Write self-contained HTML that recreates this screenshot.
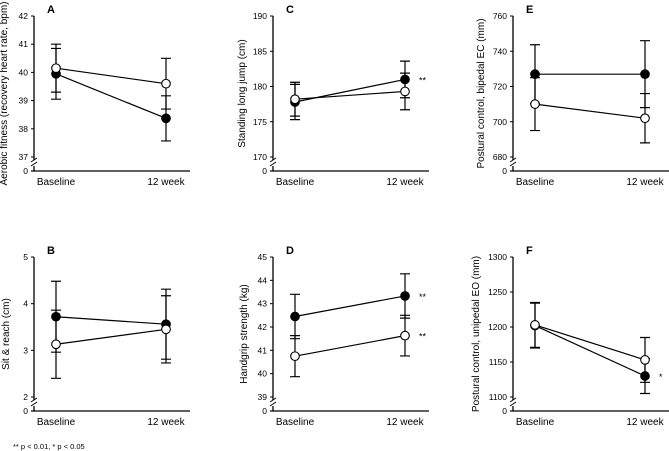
<!DOCTYPE html>
<html><head><meta charset="utf-8">
<style>
html,body{margin:0;padding:0;background:#fff;}
svg{display:block;font-family:"Liberation Sans",Arial,sans-serif;}
</style></head>
<body>
<svg id="fig" width="669" height="451" viewBox="0 0 669 451" xmlns="http://www.w3.org/2000/svg"></svg>
<script>
const timepoints = ["Baseline", "12 week"];
const panelLabels = ["A","B","C","D","E","F"];
const yTitles = ["Aerobic fitness (recovery heart rate, bpm)","Sit & reach (cm)","Standing long jump (cm)","Handgrip strength (kg)","Postural control, bipedal EC (mm)","Postural control, unipedal EO (mm)"];
const yMins = [37, 2, 170, 39, 680, 1100];
const yMaxs = [42, 5, 190, 45, 760, 1300];
const yTicksA = [37,38,39,40,41,42];
const yTicksB = [2,3,4,5];
const yTicksC = [170,175,180,185,190];
const yTicksD = [39,40,41,42,43,44,45];
const yTicksE = [680,700,720,740,760];
const yTicksF = [1100,1150,1200,1250,1300];
const filledMeans = [[39.95,38.37],[3.72,3.56],[177.8,181.0],[42.45,43.33],[727,727],[1202,1130]];
const filledErr = [[0.9,0.8],[0.76,0.75],[2.5,2.6],[0.95,0.95],[16.7,19],[32,25]];
const openMeans = [[40.15,39.6],[3.13,3.45],[178.2,179.3],[40.75,41.63],[710,702],[1203,1153]];
const openErr = [[0.85,0.9],[0.73,0.72],[2.4,2.6],[0.88,0.87],[15,14],[32,32]];
const sigFilled = ["","","**","**","","*"];
const sigOpen = ["","","","**","",""];

const NS="http://www.w3.org/2000/svg";
const svg=document.getElementById('fig');
function mk(tag,attrs,parent){const e=document.createElementNS(NS,tag);for(const k in attrs)e.setAttribute(k,attrs[k]);(parent||svg).appendChild(e);return e;}
const tickSets=[yTicksA,yTicksB,yTicksC,yTicksD,yTicksE,yTicksF];
const colAxisX=[34,273,513];
const rowTop=[16,257];
const rowBreak=[157,397];
const rowZero=[171,411];
const titleX=[7,9,245,247,484,479];
const xOff1=22, xOff2=132, axisLen=156;

for(let p=0;p<6;p++){
  const col=Math.floor(p/2), row=p%2;
  const ax=colAxisX[col], top=rowTop[row], brk=rowBreak[row], zero=rowZero[row];
  const g=mk('g',{});
  
  
  const y=v=>brk-(v-yMins[p])/(yMaxs[p]-yMins[p])*(brk-top);
  const x=i=>ax+(i===0?xOff1:xOff2);
  const pl=mk('text',{x:ax+13,y:top-3,'font-size':11,'font-weight':'bold'},g);pl.textContent=panelLabels[p];
  
  const ya=mk('path',{d:`M${ax},${top}V${brk+3}M${ax},${brk+9}V${zero}`,stroke:'#000','stroke-width':1.3,fill:'none'},g);
  
  mk('path',{d:`M${ax-3},${brk+5}L${ax+3},${brk+1}M${ax-3},${brk+9}L${ax+3},${brk+5}`,stroke:'#000','stroke-width':1},g);
  const xa=mk('line',{x1:ax-3,y1:zero,x2:ax+axisLen,y2:zero,stroke:'#000','stroke-width':1.3},g);
  
  const zt=mk('text',{x:ax-6,y:zero+3,'font-size':8.5,'text-anchor':'end'},g);zt.textContent='0';
  tickSets[p].forEach(t=>{
    mk('line',{x1:ax-3,y1:y(t),x2:ax,y2:y(t),stroke:'#000','stroke-width':1},g);
    const tl=mk('text',{x:ax-6,y:y(t)+3,'font-size':8.5,'text-anchor':'end'},g);tl.textContent=t;
    
  });
  timepoints.forEach((tp,i)=>{
    const xl=mk('text',{x:x(i),y:zero+14,'font-size':10,'text-anchor':'middle'},g);xl.textContent=tp;
    
  });
  const cy=(top+zero)/2;
  const yt=mk('text',{x:0,y:0,'font-size':10,'text-anchor':'middle',transform:`translate(${titleX[p]},${cy}) rotate(-90)`},g);yt.textContent=yTitles[p];
  
  const series=[[filledMeans[p],filledErr[p],'#000','filled'],[openMeans[p],openErr[p],'#fff','open']];
  series.forEach(([m,e])=>{
    m.forEach((v,i)=>{
      mk('path',{d:`M${x(i)},${y(v+e[i])}V${y(v-e[i])}M${x(i)-5},${y(v+e[i])}h10M${x(i)-5},${y(v-e[i])}h10`,stroke:'#000','stroke-width':1.2,fill:'none'},g);
    });
  });
  series.forEach(([m,e,fill,nm])=>{
    const ln=mk('line',{x1:x(0),y1:y(m[0]),x2:x(1),y2:y(m[1]),stroke:'#000','stroke-width':1.2},g);
    
  });
  series.forEach(([m,e,fill,nm])=>{
    m.forEach((v,i)=>{
      const c=mk('circle',{cx:x(i),cy:y(v),r:4.3,fill:fill,stroke:'#000','stroke-width':1.1},g);
      
    });
  });
  if(sigFilled[p]){const s=mk('text',{x:x(1)+14,y:y(filledMeans[p][1])+4,'font-size':9},g);s.textContent=sigFilled[p];
    }
  if(sigOpen[p]){const s=mk('text',{x:x(1)+14,y:y(openMeans[p][1])+4,'font-size':9},g);s.textContent=sigOpen[p];
    }
}
const fn=mk('text',{x:13,y:449,'font-size':7.5});fn.textContent='** p < 0.01, * p < 0.05';

</script>
</body></html>
